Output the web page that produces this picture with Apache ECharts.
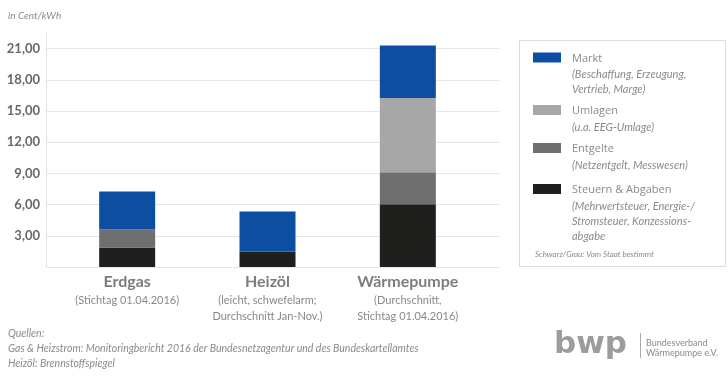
<!DOCTYPE html>
<html><head><meta charset="utf-8">
<script src="https://cdn.jsdelivr.net/npm/echarts@6/dist/echarts.min.js"></script>
<style>html,body{margin:0;padding:0;background:#fff}#c{width:728px;height:379px}</style>
</head><body><div id="c"></div>
<script>
// ---- data ----
const categories = ['Erdgas', 'Heizöl', 'Wärmepumpe'];
const categoryNotes = ['(Stichtag 01.04.2016)', '(leicht, schwefelarm;\nDurchschnitt Jan-Nov.)', '(Durchschnitt,\nStichtag 01.04.2016)'];
const steuern  = [1.88, 1.50, 6.04];
const entgelte = [1.76, 0,    3.07];
const umlagen  = [0,    0,    7.15];
const markt    = [3.61, 3.83, 5.05];
const seriesNames = ['Steuern & Abgaben', 'Entgelte', 'Umlagen', 'Markt'];
const seriesNotes = ['(Mehrwertsteuer, Energie-/\nStromsteuer, Konzessions-\nabgabe', '(Netzentgelt, Messwesen)', '(u.a. EEG-Umlage)', '(Beschaffung, Erzeugung,\nVertrieb, Marge)'];
const seriesColors = ['#1f1f1d', '#6f6f6f', '#a7a7a7', '#0b4ea2'];
const yTicks = [3, 6, 9, 12, 15, 18, 21];
const unitLabel = 'in Cent/kWh';
const stateNote = 'Schwarz/Grau: Vom Staat bestimmt';
const sources = ['Quellen:', 'Gas & Heizstrom: Monitoringbericht 2016 der Bundesnetzagentur und des Bundeskartellamtes', 'Heizöl: Brennstoffspiegel'];

const FONT = 'Lato';
const values = [steuern, entgelte, umlagen, markt];
const yMax = 22.5;

const chart = echarts.init(document.getElementById('c'));

// legend as graphics (top to bottom: Markt, Umlagen, Entgelte, Steuern)
const legendTops = [52.5, 105, 143, 184];
const graphics = [];
graphics.push({type:'rect', shape:{x:519.5, y:40.5, width:206, height:226}, style:{fill:'#fff', stroke:'#dcdcdc', lineWidth:1}, silent:true});
for (let k = 0; k < 4; k++) {
  const i = 3 - k;
  const top = legendTops[k];
  graphics.push({type:'rect', shape:{x:533, y:top, width:28, height:10}, style:{fill:seriesColors[i]}, silent:true});
  graphics.push({type:'text', x:572, y:top+6, style:{text:seriesNames[i], fill:'#8a8a8a', font:'11px "Open Sans"', verticalAlign:'middle'}, silent:true});
  graphics.push({type:'text', x:572, y:top+14.5, style:{text:seriesNotes[i], fill:'#8a8a8a', font:'italic 11px ' + FONT, verticalAlign:'top', lineHeight:15}, silent:true});
}
graphics.push({type:'text', x:535, y:254, style:{text:stateNote, fill:'#8a8a8a', font:'italic 8px ' + FONT, verticalAlign:'middle'}, silent:true});
graphics.push({type:'text', x:8, y:16, style:{text:unitLabel, fill:'#8a8a8a', font:'italic 10px ' + FONT, verticalAlign:'middle'}, silent:true});
graphics.push({type:'text', x:8, y:326, style:{text:sources.join('\n'), fill:'#8a8a8a', font:'italic 10.5px ' + FONT, verticalAlign:'top', lineHeight:15}, silent:true});
// logo
graphics.push({type:'text', x:554, y:345, style:{text:'bwp', fill:'#9c9c9c', font:'bold 31px "DejaVu Sans"', verticalAlign:'middle'}, silent:true});
graphics.push({type:'line', shape:{x1:640.5, y1:333, x2:640.5, y2:358}, style:{stroke:'#aaa', lineWidth:1}, silent:true});
graphics.push({type:'text', x:646, y:338, style:{text:'Bundesverband\nWärmepumpe e.V.', fill:'#8a8a8a', font:'9px ' + FONT, verticalAlign:'top', lineHeight:10}, silent:true});

const option = {
  animation: false,
  backgroundColor: '#fff',
  grid: [
    {left: 46, right: 228, top: 33, bottom: 112},
    {left: 57, right: 250, top: 33, bottom: 112}
  ],
  xAxis: [
    {gridIndex: 0, type: 'value', show: false, min: 0, max: 1},
    {gridIndex: 1, type: 'category', data: categories,
     axisLine: {show: false}, axisTick: {show: false},
     axisLabel: {margin: 5, interval: 0,
       formatter: (v, i) => '{t|' + v + '}\n{s|' + categoryNotes[i] + '}',
       rich: {
         t: {fontFamily: FONT, fontSize: 16, fontWeight: 'bold', color: '#7d7d7d', lineHeight: 20},
         s: {fontFamily: FONT, fontSize: 11, color: '#888', lineHeight: 16}
       }}}
  ],
  yAxis: [
    {gridIndex: 0, type: 'value', min: 0, max: yMax, interval: 3,
     axisLine: {show: true, lineStyle: {color: '#e2e2e2'}},
     axisTick: {show: false},
     splitLine: {show: true, showMaxLine: false, lineStyle: {color: '#e6e6e6'}},
     axisLabel: {margin: 6, showMinLabel: false, showMaxLabel: false,
       fontFamily: FONT, fontSize: 13, fontWeight: 'bold', color: '#676767',
       formatter: v => yTicks.indexOf(v) >= 0 ? v.toFixed(2).replace('.', ',') : ''}},
    {gridIndex: 1, type: 'value', min: 0, max: yMax, interval: 3, show: false, splitLine: {show: false}}
  ],
  series: seriesNames.map((name, i) => ({
    name: name, type: 'bar', stack: 'total', xAxisIndex: 1, yAxisIndex: 1,
    barWidth: 56, data: values[i], itemStyle: {color: seriesColors[i]}
  })),
  graphic: graphics
};
chart.setOption(option);
</script>
</body></html>
